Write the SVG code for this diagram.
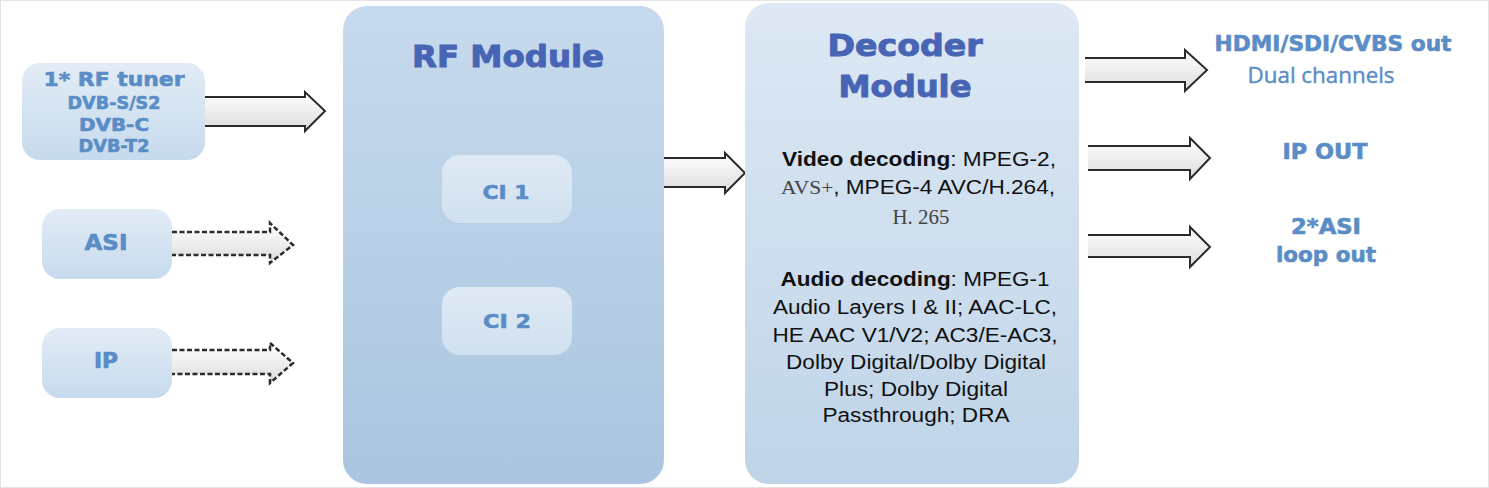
<svg xmlns="http://www.w3.org/2000/svg" width="1489" height="488" viewBox="0 0 1489 488">
<defs>
<linearGradient id="gSmall" x1="0" y1="0" x2="0" y2="1"><stop offset="0" stop-color="#e2ecf6"/><stop offset="1" stop-color="#c6daed"/></linearGradient>
<linearGradient id="gRF" x1="0" y1="0" x2="0" y2="1"><stop offset="0" stop-color="#c7daed"/><stop offset="1" stop-color="#a9c5df"/></linearGradient>
<linearGradient id="gDec" x1="0" y1="0" x2="0" y2="1"><stop offset="0" stop-color="#dde8f4"/><stop offset="1" stop-color="#bfd4e8"/></linearGradient>
<linearGradient id="gCI" x1="0" y1="0" x2="0" y2="1"><stop offset="0" stop-color="#dfeaf5"/><stop offset="1" stop-color="#d0e0ef"/></linearGradient>
<linearGradient id="gArr" x1="0" y1="0" x2="0" y2="1"><stop offset="0" stop-color="#ffffff"/><stop offset="1" stop-color="#dcdcdc"/></linearGradient>
<style>
.lt{font-family:"DejaVu Sans","Liberation Sans",sans-serif;font-weight:bold;fill:#5a8dc6;stroke:#5a8dc6;stroke-width:0.6;text-anchor:middle}
.ttl{font-family:"DejaVu Sans","Liberation Sans",sans-serif;font-weight:bold;fill:#4865b5;stroke:#4865b5;stroke-width:1;font-size:31px;text-anchor:middle}
.body{font-family:"Liberation Sans",Arial,sans-serif;font-size:20px;fill:#111;text-anchor:middle}
.ser{font-family:"Liberation Serif","Times New Roman",serif;fill:#444}
.arr{fill:url(#gArr);stroke:#2b2b2b;stroke-width:2;stroke-linejoin:miter}
.arrd{fill:url(#gArr);stroke:#2b2b2b;stroke-width:2.5;stroke-dasharray:5 2.5}
</style>
</defs>
<rect x="0" y="0" width="1489" height="488" fill="#ffffff"/>
<rect x="0.5" y="0.5" width="1488" height="487" fill="none" stroke="#e4e4e4"/>

<g id="connectors">
<path class="arr" d="M203 97 H305 V92 L325 111 L305 131 V126 H203"/>
<path class="arrd" d="M172 232 H270 V223 L293 245 L270 263 V255 H172"/>
<path class="arrd" d="M172 350 H270 V343 L293 363 L270 383 V374 H172"/>
<path class="arr" d="M663 158 H725 V153 L745 173 L725 193 V187 H663"/>
<path class="arr" d="M1085 58 H1185 V50 L1207 70 L1185 91 V82 H1085"/>
<path class="arr" d="M1088 146 H1190 V138 L1210 158 L1190 179 V170 H1088"/>
<path class="arr" d="M1088 235 H1190 V227 L1210 247 L1190 267 V257 H1088"/>
</g>

<g id="rf-tuner">
<rect x="22" y="63" width="183" height="97" rx="18" fill="url(#gSmall)"/>
<text class="lt" x="114" y="86" font-size="19.5" textLength="141" lengthAdjust="spacingAndGlyphs">1* RF tuner</text>
<text class="lt" x="114" y="109" font-size="17" textLength="93" lengthAdjust="spacingAndGlyphs">DVB-S/S2</text>
<text class="lt" x="114" y="131" font-size="17" textLength="70" lengthAdjust="spacingAndGlyphs">DVB-C</text>
<text class="lt" x="114" y="152" font-size="17" textLength="71" lengthAdjust="spacingAndGlyphs">DVB-T2</text>
</g>

<g id="asi">
<rect x="42" y="209" width="130" height="70" rx="18" fill="url(#gSmall)"/>
<text class="lt" x="106" y="250" font-size="20.5" textLength="43" lengthAdjust="spacingAndGlyphs">ASI</text>
</g>

<g id="ip">
<rect x="42" y="328" width="130" height="70" rx="18" fill="url(#gSmall)"/>
<text class="lt" x="106" y="368" font-size="20.5" textLength="24" lengthAdjust="spacingAndGlyphs">IP</text>
</g>

<g id="rf-module">
<rect x="343" y="6" width="321" height="478" rx="24" fill="url(#gRF)"/>
<text class="ttl" x="508" y="67" textLength="192" lengthAdjust="spacingAndGlyphs">RF Module</text>
</g>

<g id="ci1">
<rect x="442" y="155" width="130" height="68" rx="18" fill="url(#gCI)"/>
<text class="lt" x="506" y="199" font-size="20" textLength="47" lengthAdjust="spacingAndGlyphs">CI 1</text>
</g>

<g id="ci2">
<rect x="442" y="287" width="130" height="68" rx="18" fill="url(#gCI)"/>
<text class="lt" x="507" y="328" font-size="20" textLength="48" lengthAdjust="spacingAndGlyphs">CI 2</text>
</g>

<g id="decoder-module">
<rect x="745" y="3" width="334" height="481" rx="24" fill="url(#gDec)"/>
<text class="ttl" x="905" y="56" textLength="155" lengthAdjust="spacingAndGlyphs">Decoder</text>
<text class="ttl" x="905" y="97" textLength="133" lengthAdjust="spacingAndGlyphs">Module</text>
<text class="body" x="919" y="166" textLength="274" lengthAdjust="spacingAndGlyphs"><tspan font-weight="bold">Video decoding</tspan>: MPEG-2,</text>
<text class="body" x="918" y="194" textLength="274" lengthAdjust="spacingAndGlyphs"><tspan class="ser" font-size="19">AVS+</tspan>,  MPEG-4 AVC/H.264,</text>
<text class="body ser" x="921" y="224" font-size="19" textLength="57" lengthAdjust="spacingAndGlyphs">H. 265</text>
<text class="body" x="915" y="286" textLength="269" lengthAdjust="spacingAndGlyphs"><tspan font-weight="bold">Audio decoding</tspan>: MPEG-1</text>
<text class="body" x="915" y="314" textLength="284" lengthAdjust="spacingAndGlyphs">Audio Layers I &amp; II; AAC-LC,</text>
<text class="body" x="915" y="342" textLength="285" lengthAdjust="spacingAndGlyphs">HE AAC V1/V2; AC3/E-AC3,</text>
<text class="body" x="916" y="369" textLength="260" lengthAdjust="spacingAndGlyphs">Dolby Digital/Dolby Digital</text>
<text class="body" x="916" y="396" textLength="184" lengthAdjust="spacingAndGlyphs">Plus; Dolby Digital</text>
<text class="body" x="916" y="422" textLength="187" lengthAdjust="spacingAndGlyphs">Passthrough; DRA</text>
</g>

<g id="out-hdmi">
<text class="lt" x="1333" y="51" font-size="21" textLength="237" lengthAdjust="spacingAndGlyphs">HDMI/SDI/CVBS out</text>
<text x="1321" y="83" font-family="'Open Sans','Liberation Sans',sans-serif" font-size="21" fill="#5a8dc6" stroke="#5a8dc6" stroke-width="0.4" text-anchor="middle" textLength="147" lengthAdjust="spacingAndGlyphs">Dual channels</text>
</g>

<g id="out-ip">
<text class="lt" x="1325" y="159" font-size="21" textLength="85" lengthAdjust="spacingAndGlyphs">IP OUT</text>
</g>

<g id="out-asi">
<text class="lt" x="1326" y="234" font-size="21" textLength="70" lengthAdjust="spacingAndGlyphs">2*ASI</text>
<text class="lt" x="1326" y="262" font-size="21" textLength="100" lengthAdjust="spacingAndGlyphs">loop out</text>
</g>
</svg>
